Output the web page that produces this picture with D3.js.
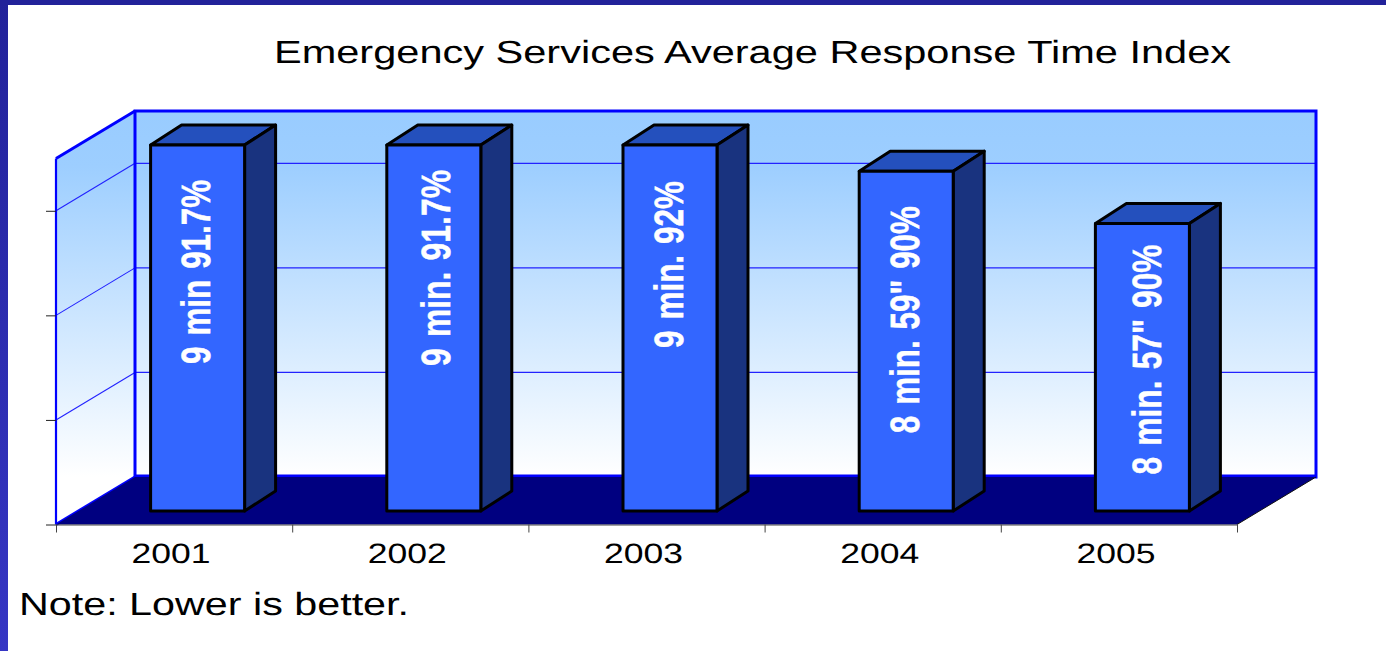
<!DOCTYPE html>
<html>
<head>
<meta charset="utf-8">
<script src="https://cdn.jsdelivr.net/npm/d3@7/dist/d3.min.js"></script>
<style>
html,body{margin:0;padding:0;background:#fff;overflow:hidden}
svg{display:block}
text{font-family:"Liberation Sans",Arial,sans-serif;text-rendering:geometricPrecision}
</style>
</head>
<body>
<svg id="chart" width="1386" height="651"></svg>
<script>
// ---- data ----
const years = ["2001","2002","2003","2004","2005"];
const indexValues = [7, 7, 7, 6.5, 5.5];
const barLabels = ["9 min 91.7%","9 min. 91.7%","9 min. 92%","8 min. 59\" 90%","8 min. 57\" 90%"];
const valueTicks = [0, 2, 4, 6];
const titleText = "Emergency Services Average Response Time Index";
const noteText = "Note: Lower is better.";
// ---- label layout (offset from bar top, length along the bar, shift from bar centre) ----
const labelTopGap = [35, 25, 36, 35, 21];
const labelLength = [184, 196, 167, 227, 230];
const labelShift = [12, 16, 13, 13, 19];

// ---- plot geometry ----
const W = 1386, H = 651;
const plot = {left:56, right:1237, bottom:524.5, top:158.5, dx:79, dy:47.5};
const bar = {width:94, offX:23.5, offY:13.5, sideX:31, sideY:20};

const svg = d3.select("#chart");
const defs = svg.append("defs");

const wallGrad = defs.append("linearGradient").attr("id","wall")
  .attr("gradientUnits","userSpaceOnUse").attr("x1",0).attr("x2",0)
  .attr("y1",plot.top-plot.dy).attr("y2",plot.bottom-plot.dy);
wallGrad.append("stop").attr("offset","0%").attr("stop-color","#99ccff");
wallGrad.append("stop").attr("offset","15%").attr("stop-color","#9dceff");
wallGrad.append("stop").attr("offset","100%").attr("stop-color","#ffffff");

const edgeGrad = defs.append("linearGradient").attr("id","edge").attr("x1",0).attr("x2",0).attr("y1",0).attr("y2",1);
edgeGrad.append("stop").attr("offset","0%").attr("stop-color","#22229a");
edgeGrad.append("stop").attr("offset","100%").attr("stop-color","#3636c4");

// page frame
svg.append("rect").attr("x",0).attr("y",0).attr("width",8).attr("height",H).attr("fill","url(#edge)");
svg.append("rect").attr("x",0).attr("y",0).attr("width",W).attr("height",5).attr("fill","#22229a");

// scales
const y = d3.scaleLinear().domain([0,7]).range([plot.bottom, plot.top]);
const x = d3.scaleBand().domain(years).range([plot.left, plot.right])
  .paddingInner(1 - bar.width / ((plot.right-plot.left)/years.length))
  .paddingOuter((1 - bar.width / ((plot.right-plot.left)/years.length))/2);
const xEdges = d3.scaleLinear().domain([0,years.length]).range([plot.left, plot.right]);

const line = d3.line();
const poly = pts => line(pts) + "Z";

// back wall
const backL = plot.left + plot.dx, backR = plot.right + plot.dx;
const backTop = plot.top - plot.dy, backBot = plot.bottom - plot.dy;
svg.append("rect").attr("x",backL).attr("y",backTop).attr("width",backR-backL).attr("height",backBot-backTop)
  .attr("fill","url(#wall)");

// left wall
svg.append("path").attr("d",poly([[plot.left,plot.top],[backL,backTop],[backL,backBot],[plot.left,plot.bottom]]))
  .attr("fill","url(#wall)");

// gridlines on both walls
const gridValues = valueTicks.filter(v => v>0);
svg.append("g").selectAll("line").data(gridValues).join("line")
  .attr("x1",backL).attr("x2",backR)
  .attr("y1",d=>y(d)-plot.dy).attr("y2",d=>y(d)-plot.dy)
  .attr("stroke","#2222ff").attr("stroke-width",1.2);
svg.append("g").selectAll("line").data(gridValues).join("line")
  .attr("x1",plot.left).attr("x2",backL)
  .attr("y1",d=>y(d)).attr("y2",d=>y(d)-plot.dy)
  .attr("stroke","#2222ff").attr("stroke-width",1.1);

// wall outlines
svg.append("path").attr("d",line([[plot.left,plot.bottom],[plot.left,plot.top]])).attr("fill","none").attr("stroke","#0000ff").attr("stroke-width",2.2);
svg.append("path").attr("d",line([[plot.left,plot.top],[backL,backTop]])).attr("fill","none").attr("stroke","#0000ff").attr("stroke-width",3);
svg.append("path").attr("d",line([[backL,backBot],[backL,backTop],[backR,backTop],[backR,backBot]])).attr("fill","none").attr("stroke","#0000ff").attr("stroke-width",3).attr("stroke-linecap","square");
svg.append("path").attr("d",line([[plot.left,plot.bottom],[backL,backBot]])).attr("fill","none").attr("stroke","#0000ff").attr("stroke-width",3);

// floor
svg.append("path").attr("d",line([[backL,backBot-1],[backR,backBot-1]])).attr("stroke","#0000ff").attr("stroke-width",3);
svg.append("path").attr("d",poly([[plot.left,plot.bottom],[backL,backBot],[backR,backBot],[plot.right,plot.bottom]]))
  .attr("fill","#000080");
svg.append("path").attr("d",line([[backR,backBot],[plot.right,plot.bottom]])).attr("fill","none").attr("stroke","#111").attr("stroke-width",1);

// axes
const xAxis = d3.axisBottom(xEdges).tickValues(d3.range(years.length+1)).tickFormat("").tickSize(8).tickSizeOuter(0);
svg.append("g").attr("transform",`translate(0,${plot.bottom})`).call(xAxis)
  .call(g=>g.selectAll("path,line").attr("stroke","#444").attr("stroke-width",1));
const yAxis = d3.axisLeft(y).tickValues(valueTicks).tickFormat("").tickSize(10).tickSizeOuter(0);
svg.append("g").attr("transform",`translate(${plot.left},0)`).call(yAxis)
  .call(g=>g.select("path").remove())
  .call(g=>g.selectAll("line").attr("stroke","#222").attr("stroke-width",1));

// bars
const rows = years.map((yr,i)=>({yr,v:indexValues[i],label:barLabels[i],gap:labelTopGap[i],len:labelLength[i],shift:labelShift[i]}));
const barG = svg.append("g").selectAll("g").data(rows).join("g");
const fx0 = d => x(d.yr) + bar.offX, fx1 = d => fx0(d) + bar.width;
const fyT = d => y(d.v) - bar.offY, fyB = () => y(0) - bar.offY;
const stroke = el => el.attr("stroke","#000").attr("stroke-width",3).attr("stroke-linejoin","round");

barG.append("path").call(stroke).attr("fill","#2450bd")
  .attr("d",d=>poly([[fx0(d),fyT(d)],[fx0(d)+bar.sideX,fyT(d)-bar.sideY],[fx1(d)+bar.sideX,fyT(d)-bar.sideY],[fx1(d),fyT(d)]]));
barG.append("path").call(stroke).attr("fill","#19337f")
  .attr("d",d=>poly([[fx1(d),fyT(d)],[fx1(d)+bar.sideX,fyT(d)-bar.sideY],[fx1(d)+bar.sideX,fyB()-bar.sideY],[fx1(d),fyB()]]));
barG.append("rect").call(stroke).attr("fill","#3366ff")
  .attr("x",fx0).attr("y",fyT).attr("width",bar.width).attr("height",d=>fyB()-fyT(d));

// rotated bar labels
barG.append("text")
  .attr("transform",d=>`translate(${fx0(d)+bar.width/2+d.shift},${fyT(d)+d.gap+d.len}) rotate(-90)`)
  .attr("fill","#fff").attr("stroke","#fff").attr("stroke-width",0.5)
  .attr("font-weight","bold").attr("font-size",41)
  .attr("word-spacing",3)
  .attr("textLength",d=>d.len).attr("lengthAdjust","spacingAndGlyphs")
  .text(d=>d.label);

// category labels
svg.append("g").selectAll("text").data(years).join("text")
  .attr("x",d=>x(d)+x.bandwidth()/2-3).attr("y",563)
  .attr("text-anchor","middle").attr("font-size",28).attr("fill","#000")
  .attr("textLength",79).attr("lengthAdjust","spacingAndGlyphs")
  .text(d=>d);

// title and note
svg.append("text").attr("x",274).attr("y",63).attr("font-size",32).attr("fill","#000")
  .attr("textLength",957).attr("lengthAdjust","spacingAndGlyphs").text(titleText);
svg.append("text").attr("x",19).attr("y",615).attr("font-size",32).attr("fill","#000")
  .attr("textLength",390).attr("lengthAdjust","spacingAndGlyphs").text(noteText);
</script>
</body>
</html>
